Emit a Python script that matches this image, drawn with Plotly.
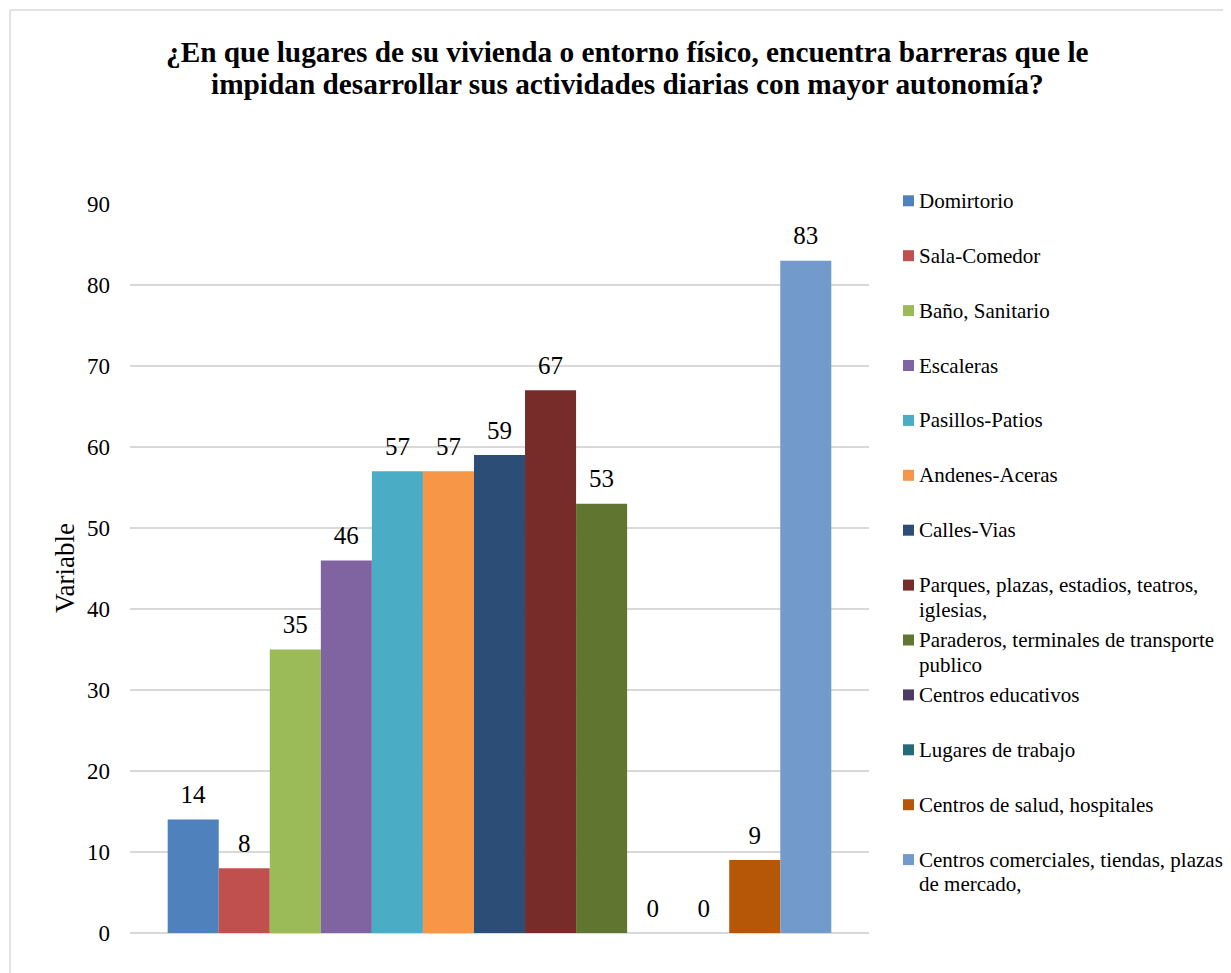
import plotly.graph_objects as go

title_lines = [
    "¿En que lugares de su vivienda o entorno físico, encuentra barreras que le",
    "impidan desarrollar sus actividades diarias con mayor autonomía?",
]
series_names = [
    "Domirtorio", "Sala-Comedor", "Baño, Sanitario", "Escaleras", "Pasillos-Patios",
    "Andenes-Aceras", "Calles-Vias", "Parques, plazas, estadios, teatros, iglesias,",
    "Paraderos, terminales de transporte publico", "Centros educativos",
    "Lugares de trabajo", "Centros de salud, hospitales",
    "Centros comerciales, tiendas, plazas de mercado,",
]
legend_lines = [
    ["Domirtorio"], ["Sala-Comedor"], ["Baño, Sanitario"], ["Escaleras"], ["Pasillos-Patios"],
    ["Andenes-Aceras"], ["Calles-Vias"], ["Parques, plazas, estadios, teatros,", "iglesias,"],
    ["Paraderos, terminales de transporte", "publico"], ["Centros educativos"],
    ["Lugares de trabajo"], ["Centros de salud, hospitales"],
    ["Centros comerciales, tiendas, plazas", "de mercado,"],
]
values = [14, 8, 35, 46, 57, 57, 59, 67, 53, 0, 0, 9, 83]
colors = ["#4F81BD", "#C0504D", "#9BBB59", "#8064A2", "#4BACC6", "#F79646", "#2C4D75",
          "#772C2A", "#5F7530", "#4D3B62", "#276A7C", "#B65708", "#729ACA"]
y_ticks = [0, 10, 20, 30, 40, 50, 60, 70, 80, 90]
y_title = "Variable"
category = [""]

OFF = 8  # page body margin
W, H = 1231 - OFF, 973 - OFF
# plot area in screen pixels
LS, RS, TS, BS = 130, 869, 204, 933
L, R, T, B = LS - OFF, RS - OFF, TS - OFF, BS - OFF
FONT = "Liberation Serif, Times New Roman, serif"
LABEL_PAD = 1.05  # gap between bar top and label, in axis units

def px_x(xs):
    return (xs - LS) / (RS - LS)

def px_y(ys):
    return (BS - ys) / (BS - TS)

fig = go.Figure()
for i, (name, v, c) in enumerate(zip(series_names, values, colors)):
    fig.add_trace(go.Bar(
        x=category, y=[v], name=name, offsetgroup=str(i),
        marker=dict(color=c, line=dict(width=0)), showlegend=False, hoverinfo="name+y",
    ))
    fig.add_trace(go.Bar(
        x=category, y=[LABEL_PAD], base=[v], name=name, offsetgroup=str(i),
        marker=dict(color="rgba(0,0,0,0)", line=dict(width=0)),
        text=[str(v)], textposition="outside", cliponaxis=False,
        textfont=dict(family=FONT, size=25, color="#000000"),
        showlegend=False, hoverinfo="skip",
    ))

shapes = []
annotations = []
# chart border
shapes.append(dict(type="rect", xref="paper", yref="paper",
                   x0=px_x(10), x1=px_x(1260), y0=px_y(1000), y1=px_y(10),
                   line=dict(color="#D9D9D9", width=1.5), fillcolor="rgba(0,0,0,0)", layer="below"))

# title lines
for ln, yc in zip(title_lines, [52, 84]):
    annotations.append(dict(xref="paper", yref="paper", x=px_x(627.5), y=px_y(yc),
                            xanchor="center", yanchor="middle", text="<b>%s</b>" % ln,
                            showarrow=False,
                            font=dict(family=FONT, size=29.3, color="#000000")))

# y-axis title
annotations.append(dict(xref="paper", yref="paper", x=px_x(65), y=px_y(568),
                        xanchor="center", yanchor="middle", text=y_title, textangle=-90,
                        showarrow=False, font=dict(family=FONT, size=27, color="#000000")))

# manual legend
row0, pitch, lh = 200.8, 54.9, 24.5
for i, (lines, c) in enumerate(zip(legend_lines, colors)):
    yc = row0 + pitch * i
    shapes.append(dict(type="rect", xref="paper", yref="paper",
                       x0=px_x(903), x1=px_x(914), y0=px_y(yc + 5.5), y1=px_y(yc - 5.5),
                       fillcolor=c, line=dict(width=0)))
    for j, ln in enumerate(lines):
        annotations.append(dict(
            xref="paper", yref="paper", x=px_x(917), y=px_y(yc + j * lh),
            xanchor="left", yanchor="middle", text=ln, showarrow=False,
            font=dict(family=FONT, size=21, color="#000000"),
        ))

fig.update_layout(
    width=W, height=H,
    margin=dict(l=L, r=W - R, t=T, b=H - B, pad=0),
    paper_bgcolor="white", plot_bgcolor="white",
    barmode="group", bargap=0.102, bargroupgap=0,
    font=dict(family=FONT, color="#000000"),
    xaxis=dict(showticklabels=False, showgrid=False, showline=False, zeroline=False,
               ticks="", fixedrange=True),
    yaxis=dict(range=[0, 90], tickvals=y_ticks, showgrid=True, gridcolor="#D9D9D9",
               gridwidth=1.5, zeroline=True, zerolinecolor="#D9D9D9", zerolinewidth=1.5,
               showline=False, ticks="", ticklabelstandoff=19,
               tickfont=dict(family=FONT, size=23, color="#000000")),
    shapes=shapes, annotations=annotations,
)
fig.write_html("out.html")
